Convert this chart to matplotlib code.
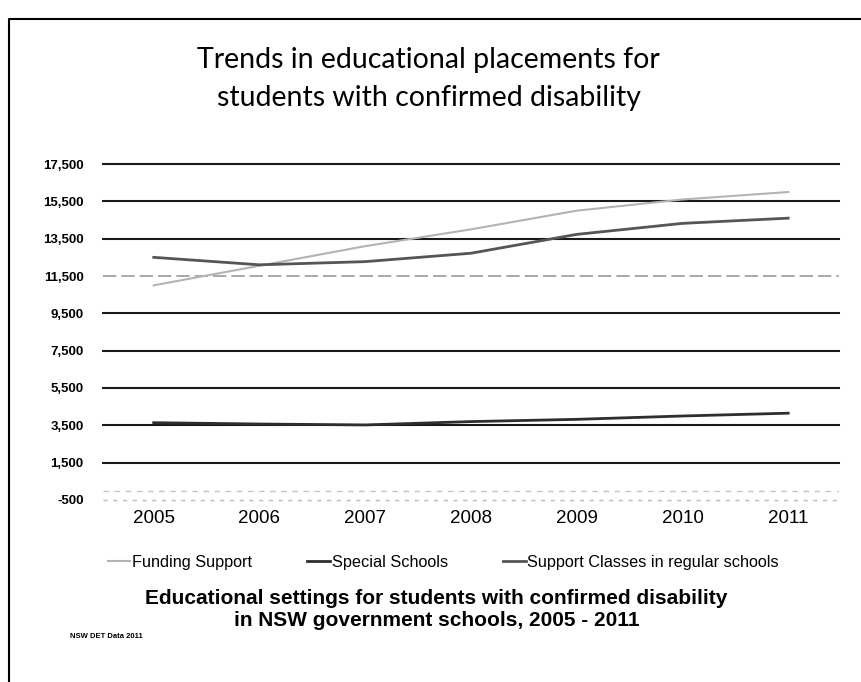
import matplotlib
matplotlib.use('Agg')
import matplotlib.pyplot as plt
from matplotlib.lines import Line2D

# data
years = ['2005', '2006', '2007', '2008', '2009', '2010', '2011']
funding_support = [11000, 12050, 13100, 14000, 15000, 15600, 16000]
special_schools = [3640, 3570, 3520, 3700, 3820, 4000, 4150]
support_classes = [12500, 12100, 12270, 12720, 13730, 14320, 14600]

y_ticks = list(range(-500, 17501, 2000))

plt.rcParams['font.family'] = ['Liberation Sans', 'DejaVu Sans']

fig = plt.figure(figsize=(8.61, 6.82), dpi=100)
ax = fig.add_axes([0.1196, 0.2669, 0.8548, 0.4926])

x = list(range(len(years)))

# gridlines (scan: mostly black, a couple faint)
for v in y_ticks:
    if v == -500:
        ax.axhline(v, color='#bbbbbb', lw=1, linestyle=(0, (3, 4)), zorder=1, clip_on=False)
    elif v == 11500:
        ax.axhline(v, color='#9a9a9a', lw=1.2, linestyle=(0, (8, 3)), zorder=1)
    else:
        ax.axhline(v, color='#1a1a1a', lw=1.5, zorder=1, clip_on=False)
ax.axhline(0, color='#c4c4c4', lw=1, linestyle=(0, (4, 4)), zorder=1)

ax.plot(x, funding_support, color='#b3b3b3', lw=1.5, label='Funding Support', zorder=3)
ax.plot(x, special_schools, color='#2e2e2e', lw=2, label='Special Schools', zorder=3)
ax.plot(x, support_classes, color='#555555', lw=2,
        label='Support Classes in regular schools', zorder=3)

ax.set_xlim(-0.48, 6.48)
ax.set_ylim(-500, 17500)
ax.set_xticks(x)
ax.set_xticklabels(years, fontsize=13.5)
ax.set_yticks(y_ticks)
ax.set_yticklabels([f"{v:,}" for v in y_ticks], fontsize=9.5, fontweight='bold')
ax.tick_params(axis='both', length=0)
ax.tick_params(axis='y', pad=14)
ax.tick_params(axis='x', pad=7)
for s in ax.spines.values():
    s.set_visible(False)

fig.legend(loc='center', bbox_to_anchor=(0.515, 0.175), ncol=3, frameon=False,
           fontsize=11.7, handlelength=1.4, handletextpad=0.1, columnspacing=3.4)

fig.text(0.498, 0.884, "Trends in educational placements for\nstudents with confirmed disability",
         ha='center', va='center', fontsize=20.5, family='Lato', linespacing=1.55)

fig.text(0.507, 0.106, "Educational settings for students with confirmed disability\n"
         "in NSW government schools, 2005 - 2011",
         ha='center', va='center', fontsize=15, fontweight='bold', linespacing=1.2)

fig.text(0.081, 0.067, "NSW DET Data 2011", ha='left', va='center', fontsize=5.5,
         fontweight='bold')

# slide frame
fig.add_artist(Line2D([0.0105, 0.0105, 1.0], [0.0, 0.972, 0.972],
                      transform=fig.transFigure, color='black', lw=1.5))

fig.savefig('out.png', dpi=100)
